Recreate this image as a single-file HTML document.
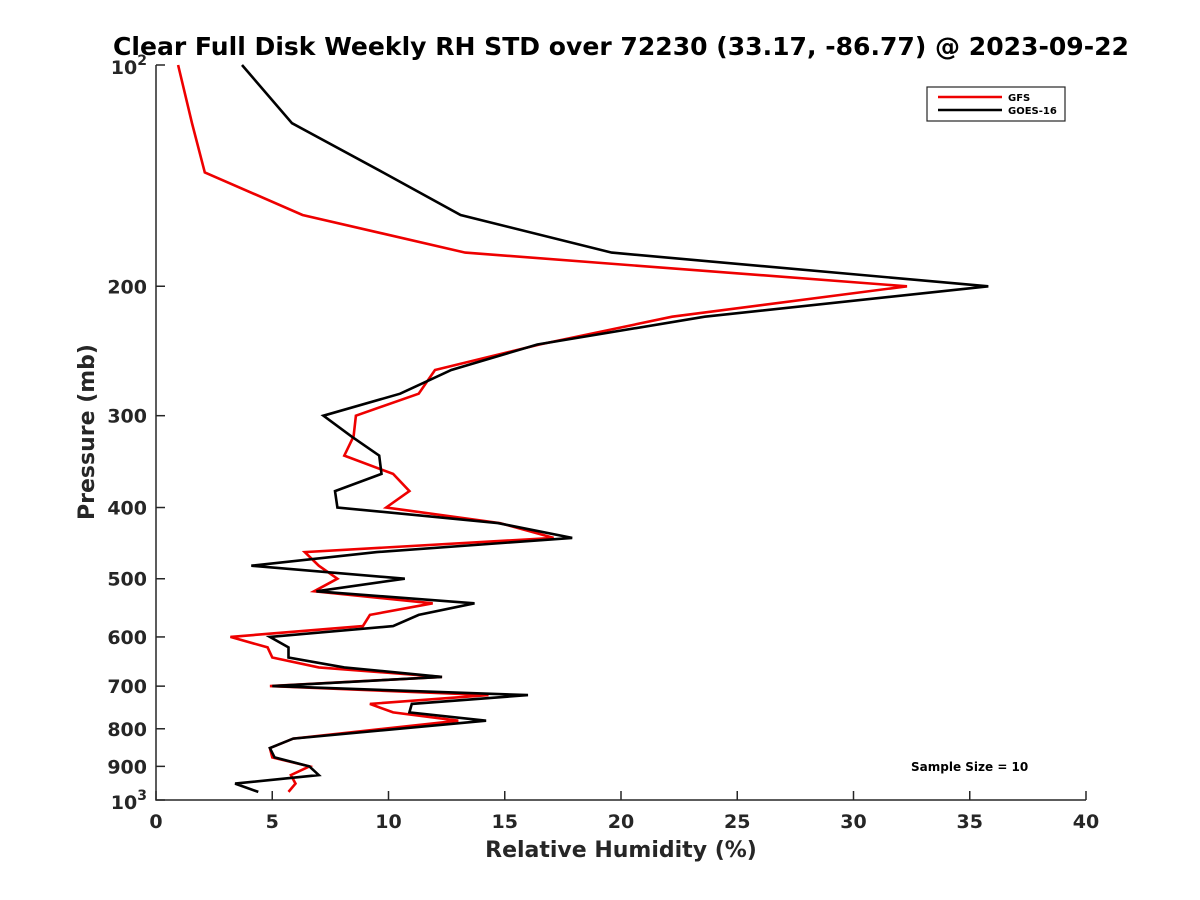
<!DOCTYPE html>
<html><head><meta charset="utf-8"><style>
body{margin:0;background:#fff;}
svg{display:block;font-family:"DejaVu Sans","Liberation Sans",sans-serif;font-weight:bold;}
</style></head><body>
<svg id="chart" width="1200" height="900" viewBox="0 0 1200 900">
<rect width="1200" height="900" fill="#fff"/>
<text x="621" y="55" text-anchor="middle" font-size="25" fill="#000" textLength="1016" lengthAdjust="spacingAndGlyphs">Clear Full Disk Weekly RH STD over 72230 (33.17, -86.77) @ 2023-09-22</text>
<text x="621" y="857" text-anchor="middle" font-size="22" fill="#262626">Relative Humidity (%)</text>
<text transform="translate(94,432) rotate(-90)" text-anchor="middle" font-size="22" fill="#262626">Pressure (mb)</text>
<g id="axes"></g>
<g id="series"></g>
<g>
<rect x="927" y="87" width="138" height="34" fill="#fff" stroke="#262626" stroke-width="1.2"/>
<line x1="938" y1="97" x2="1002" y2="97" stroke="#e00" stroke-width="2.5"/>
<text x="1008" y="101" font-size="10" fill="#000">GFS</text>
<line x1="938" y1="110" x2="1002" y2="110" stroke="#000" stroke-width="2.5"/>
<text x="1008" y="114" font-size="10" fill="#000">GOES-16</text>
</g>
<text x="911" y="771" font-size="12" fill="#000">Sample Size = 10</text>
</svg>
<script>
const pressures=[100,120,140,160,180,200,220,240,260,280,300,320,340,360,380,400,420,440,460,480,500,520,540,560,580,600,620,640,660,680,700,720,740,760,780,825,850,875,900,925,950,975];
const gfsRH=[0.95,1.55,2.1,6.3,13.3,32.3,22.2,16.5,12.0,11.3,8.6,8.5,8.1,10.2,10.9,9.9,14.8,17.1,6.4,7.0,7.8,6.8,11.9,9.2,8.9,3.2,4.8,5.0,7.0,12.3,4.9,14.3,9.2,10.2,13.0,5.9,4.9,5.0,6.6,5.8,6.0,5.7];
const goesRH=[3.7,5.85,9.76,13.1,19.6,35.8,23.6,16.4,12.7,10.5,7.2,8.4,9.6,9.7,7.7,7.8,14.7,17.9,9.5,4.1,10.7,6.9,13.7,11.3,10.2,4.9,5.7,5.7,8.1,12.3,5.0,16.0,11.0,10.9,14.2,5.9,4.9,5.1,6.6,7.0,3.4,4.4];
const xTicks=[0,5,10,15,20,25,30,35,40];
const yTicks=[200,300,400,500,600,700,800,900];

const X0=156,X1=1086,Y0=65,Y1=800;
const xs=v=>X0+(v-0)/(40-0)*(X1-X0);
const ys=p=>Y0+(Math.log10(p)-2)*(Y1-Y0);
const NS='http://www.w3.org/2000/svg';
function mk(tag,attrs,parent){const e=document.createElementNS(NS,tag);for(const k in attrs)e.setAttribute(k,attrs[k]);parent.appendChild(e);return e;}
const axes=document.getElementById('axes');
const ax=mk('path',{d:`M${X0},${Y0}V${Y1}H${X1}`,fill:'none',stroke:'#262626','stroke-width':1.5},axes);


xTicks.forEach(t=>{
  const x=xs(t);
  const l=mk('line',{x1:x,y1:Y1,x2:x,y2:Y1-9,stroke:'#262626','stroke-width':1.5},axes);
  
  
  const tx=mk('text',{x:x,y:Y1+28,'text-anchor':'middle','font-size':19,fill:'#262626'},axes);
  tx.textContent=t;
  
  
});
yTicks.forEach(t=>{
  const y=ys(t);
  const l=mk('line',{x1:X0,y1:y,x2:X0+9,y2:y,stroke:'#262626','stroke-width':1.5},axes);
  
  
  const tx=mk('text',{x:X0-9,y:y+7,'text-anchor':'end','font-size':19,fill:'#262626'},axes);
  tx.textContent=t;
  
  
});
[[100,'2'],[1000,'3']].forEach(([p,e])=>{
  const y=ys(p);
  const l=mk('line',{x1:X0,y1:y,x2:X0+9,y2:y,stroke:'#262626','stroke-width':1.5},axes);
  
  
  const tx=mk('text',{x:X0-9,y:y+9,'text-anchor':'end','font-size':19,fill:'#262626'},axes);
  
  
  const t1=mk('tspan',{},tx);t1.textContent='10';
  const t2=mk('tspan',{dy:-9,'font-size':14},tx);t2.textContent=e;
});
const sg=document.getElementById('series');
function line(vals,color,name){
  const d=vals.map((v,i)=>(i?'L':'M')+xs(v).toFixed(1)+','+ys(pressures[i]).toFixed(1)).join('');
  const p=mk('path',{d:d,fill:'none',stroke:color,'stroke-width':2.6,'stroke-linejoin':'miter'},sg);
  
  
}
line(gfsRH,'#e00','gfs-line');
line(goesRH,'#000','goes16-line');
</script>
</body></html>
